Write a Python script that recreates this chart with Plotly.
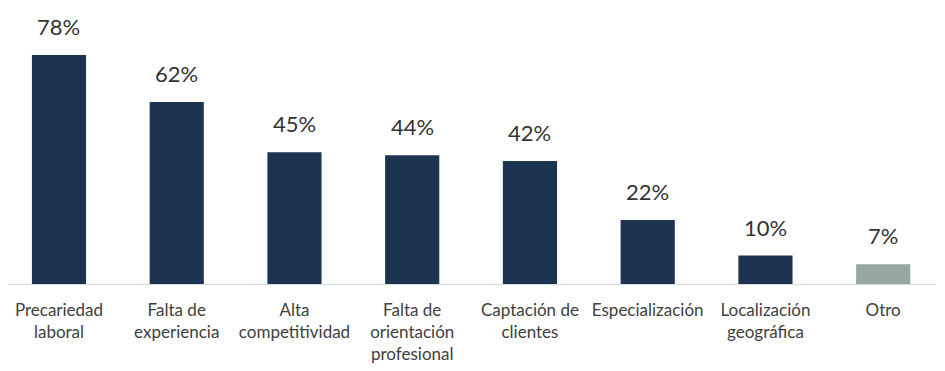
import plotly.graph_objects as go

categories = ["Precariedad<br>laboral", "Falta de<br>experiencia", "Alta<br>competitividad",
              "Falta de<br>orientación<br>profesional", "Captación de<br>clientes",
              "Especialización", "Localización<br>geográfica", "Otro"]
values = [78, 62, 45, 44, 42, 22, 10, 7]
value_labels = ["78%", "62%", "45%", "44%", "42%", "22%", "10%", "7%"]
colors = ["#1d3352"] * 7 + ["#97a7a4"]

x = list(range(len(categories)))

fig = go.Figure(go.Bar(x=x, y=values, marker=dict(color=colors, line=dict(width=0)),
                       width=0.46, hoverinfo="skip"))

for xi, v, lab in zip(x, values, value_labels):
    fig.add_annotation(x=xi, y=v, text=lab, showarrow=False, yanchor="bottom",
                       yshift=13, font=dict(family="Lato", size=22, color="#333333"))

fig.add_shape(type="line", xref="x", yref="y", x0=-0.45, x1=7.45, y0=0, y1=0,
              line=dict(color="#d5dfdd", width=2))

fig.update_layout(
    width=937, height=363,
    margin=dict(l=0, r=0, t=0, b=86, autoexpand=False),
    paper_bgcolor="white", plot_bgcolor="white",
    showlegend=False,
    xaxis=dict(range=[-0.433, 7.525], tickmode="array", tickvals=x, ticktext=categories,
               showgrid=False, zeroline=False, showline=False, ticks="",
               automargin=False, ticklabelstandoff=13,
               tickfont=dict(family="Lato", size=17, color="#404040")),
    yaxis=dict(range=[0, 93.9], visible=False, showgrid=False, zeroline=False,
               automargin=False),
)

fig.write_html("out.html")
